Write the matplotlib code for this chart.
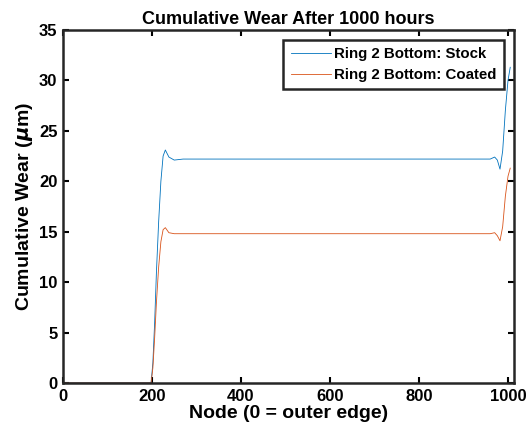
import numpy as np
import matplotlib
matplotlib.use('Agg')
import matplotlib.pyplot as plt

plt.rcParams['font.family'] = ['Liberation Sans', 'DejaVu Sans']
plt.rcParams['font.weight'] = 'bold'
plt.rcParams['mathtext.fontset'] = 'dejavusans'

# values
nodes = [0, 198, 202, 206, 210, 215, 220, 225, 230, 238, 250, 270,
         960, 970, 976, 982, 988, 994, 1000, 1005]
stock = [0, 0, 2.0, 6.0, 11.0, 16.0, 20.0, 22.5, 23.1, 22.4, 22.1, 22.2,
         22.2, 22.4, 22.1, 21.2, 23.0, 27.0, 30.0, 31.3]
coated = [0, 0, 1.5, 4.5, 8.0, 11.5, 14.0, 15.2, 15.4, 14.9, 14.8, 14.8,
          14.8, 14.9, 14.6, 14.1, 15.5, 18.5, 20.5, 21.3]

fig = plt.figure(figsize=(5.31, 4.38), dpi=100)
ax = fig.add_axes([0.1186, 0.1256, 0.849, 0.806])

ax.plot(nodes, stock, color='#0072BD', lw=0.6, label='Ring 2 Bottom: Stock')
ax.plot(nodes, coated, color='#D95319', lw=0.6, label='Ring 2 Bottom: Coated')

ax.set_xlim(0, 1013)
ax.set_ylim(0, 35)
ax.set_xticks(range(0, 1001, 200))
ax.set_yticks(range(0, 36, 5))
ax.tick_params(direction='in', top=True, right=True, labelsize=12, width=1.5, length=4, pad=4)
for sp in ax.spines.values():
    sp.set_linewidth(1.8)
    sp.set_color('#262626')

ax.set_title('Cumulative Wear After 1000 hours', fontsize=13, fontweight='bold', pad=4)
ax.set_xlabel('Node (0 = outer edge)', fontsize=14, fontweight='bold', labelpad=1)
ax.set_ylabel(r'Cumulative Wear ($\mu$m)', fontsize=14, fontweight='bold', labelpad=3)

leg = ax.legend(loc='upper right', fontsize=10.8, fancybox=False, framealpha=1,
                edgecolor='#262626', borderaxespad=0.65, handlelength=2.7,
                handletextpad=0.2, borderpad=0.5, labelspacing=0.45)
leg.get_frame().set_linewidth(1.8)

fig.savefig('out.png', dpi=100)
